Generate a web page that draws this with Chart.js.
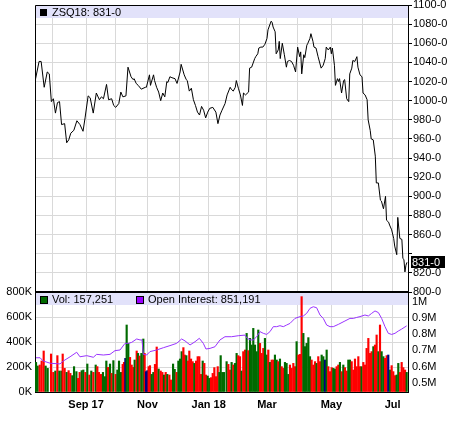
<!DOCTYPE html>
<html>
<head>
<meta charset="utf-8">
<script src="https://cdn.jsdelivr.net/npm/chart.js@4/dist/chart.umd.min.js"></script>
<style>
  html, body { margin: 0; padding: 0; background: #fff; }
  #wrap { position: relative; width: 450px; height: 433px; }
  canvas { position: absolute; left: 0; }
  #price { top: 0; }
  #vol { top: 280px; }
</style>
</head>
<body>
<div id="wrap">
  <canvas id="price" width="450" height="300"></canvas>
  <canvas id="vol" width="450" height="153"></canvas>
</div>
<script>
// x axis is in calendar days counted from 1 Aug 2017
const xMin = -17;
const xMax = 348;
const monthTicks = [0, 33, 62, 93, 124, 153, 183, 210, 240, 273, 303, 333];
const monthLabels = ['', 'Sep 17', '', 'Nov', '', 'Jan 18', '', 'Mar', '', 'May', '', 'Jul'];

const symbol = 'ZSQ18';
const lastPrice = 831;
const lastVolume = 157251;
const lastOpenInterest = 851191;

const priceDays = [
  -17, -13, -11, -8, -5, -3, -1, 1, 3, 5,
  7, 9, 12, 14, 16, 18, 21, 24, 27, 30,
  32, 35, 37, 40, 43, 46, 48, 50, 53, 55,
  58, 60, 62, 65, 67, 69, 72, 74, 77, 79,
  80, 82, 84, 87, 91, 92, 95, 96, 99, 100,
  102, 104, 106, 108, 110, 112, 113, 115, 117, 120,
  122, 125, 126, 129, 131, 132, 134, 136, 138, 140,
  142, 144, 146, 148, 150, 152, 154, 157, 160, 162,
  164, 166, 169, 171, 174, 175, 177, 179, 180, 182,
  184, 186, 187, 189, 192, 193, 195, 198, 199, 201,
  202, 204, 206, 208, 210, 211, 214, 215, 216, 218,
  219, 221, 222, 223, 225, 227, 229, 230, 232, 234,
  236, 238, 240, 242, 243, 244, 246, 247, 249, 250,
  252, 253, 255, 256, 258, 260, 263, 265, 267, 268,
  270, 272, 273, 274, 276, 277, 279, 280, 281, 283,
  285, 286, 288, 290, 291, 293, 294, 296, 298, 299,
  301, 303, 304, 306, 308, 309, 311, 312, 314, 316,
  317, 319, 321, 322, 324, 326, 327, 329, 330, 332,
  334, 335, 337, 338, 340, 342, 343, 344, 345, 346, 347
];
const priceValues = [
  1020, 1041, 1041, 1014, 1030, 1028, 999, 1002, 987, 998,
  999, 975, 976, 956, 959, 966, 969, 979, 975, 968,
  982, 1005, 1003, 987, 1008, 1001, 1004, 1002, 1017, 1001,
  1002, 995, 993, 997, 1009, 1004, 1005, 1035, 1025, 1022,
  1023, 1018, 1016, 1012, 1014, 1014, 1027, 1016, 1027, 1021,
  1014, 1009, 1000, 1008, 1004, 1020, 1019, 1025, 1024, 1023,
  1018, 1030, 1038, 1027, 1022, 1021, 1010, 1013, 1001, 995,
  988, 985, 994, 990, 982, 988, 992, 993, 988, 976,
  985, 990, 997, 1006, 1014, 1012, 1010, 1014, 1021, 1013,
  1006, 995, 1008, 1006, 1009, 1034, 1035, 1044, 1046, 1049,
  1055, 1056, 1056, 1059, 1065, 1074, 1083, 1082, 1077, 1072,
  1049, 1053, 1062, 1044, 1060, 1048, 1035, 1041, 1042, 1041,
  1037, 1030, 1056, 1046, 1051, 1028, 1048, 1045, 1058, 1060,
  1065, 1070, 1062, 1056, 1055, 1046, 1034, 1037, 1044, 1056,
  1053, 1056, 1049, 1055, 1037, 1016, 1023, 1020, 1023, 1008,
  1021, 1022, 1002, 999, 1028, 1034, 1042, 1041, 1046, 1035,
  1027, 1025, 1008, 1006, 1001, 980, 969, 960, 959, 942,
  914, 914, 896, 895, 887, 900, 875, 873, 870, 865,
  856, 848, 839, 878, 856, 855, 835, 834, 821, 828, 831
];

// volume in thousands; g = up day, r = down day, n = unchanged
const volDays = [
  -16.0, -14.4, -12.4, -10.5, -8.5, -6.6, -4.6, -1.3, 0.9, 2.9,
  4.9, 6.8, 8.8, 10.1, 12.0, 14.0, 15.9, 17.6, 19.5, 21.2,
  23.5, 25.1, 26.7, 28.7, 30.3, 32.3, 34.2, 36.2, 38.1, 40.1,
  42.4, 44.0, 45.6, 47.6, 49.5, 51.5, 52.8, 54.4, 56.4, 58.0,
  59.7, 61.9, 63.6, 65.2, 67.2, 68.8, 70.1, 71.4, 72.7, 74.3,
  76.0, 77.6, 79.2, 80.5, 82.5, 83.8, 85.4, 87.1, 89.0, 90.3,
  91.6, 92.9, 94.2, 95.5, 97.2, 98.8, 100.4, 102.1, 104.0, 106.0,
  107.6, 109.2, 110.9, 112.5, 114.5, 116.1, 118.1, 119.7, 121.6, 123.3,
  124.9, 126.5, 128.2, 129.5, 131.1, 132.7, 134.0, 135.7, 137.3, 138.9,
  140.6, 142.2, 143.8, 145.5, 147.1, 148.7, 150.3, 152.0, 153.6, 155.2,
  156.9, 158.5, 160.1, 161.8, 163.4, 164.7, 166.3, 168.0,
  170.5, 172.2, 173.8, 175.4, 177.1, 178.7, 180.3, 181.9, 183.6, 185.2,
  186.8, 188.5, 190.1, 191.7, 193.4, 195.0, 196.6, 198.3, 199.9, 201.5,
  203.2, 204.8, 206.4, 208.0, 209.7, 211.3, 212.9, 214.6, 216.2, 217.8,
  219.5, 221.1, 222.7, 224.4, 226.0, 227.6, 229.2, 230.9, 232.5, 234.1,
  235.8, 237.4, 239.0, 240.7, 242.3, 243.9, 245.6, 247.2, 248.8, 250.5,
  252.1, 253.7, 255.3, 257.0, 258.6, 260.2, 261.9, 263.5, 265.1, 266.8,
  268.4, 270.0, 271.7, 273.3, 274.9, 276.5, 278.2, 279.8, 281.4, 283.1,
  284.7, 286.3, 288.0, 289.6, 291.2, 292.9, 294.5, 296.1, 297.8, 299.4,
  301.0, 302.6, 304.3, 305.9, 307.5, 309.2, 310.8, 312.4, 314.1, 315.7,
  317.3, 319.0, 320.6, 322.2, 323.9, 325.5, 327.1, 328.7, 330.4, 332.0,
  333.6, 335.3, 336.9, 338.5, 340.2, 341.8, 343.4, 345.1, 346.7
];
const volValues = [
  237, 208, 216, 248, 328, 208, 189, 304, 157, 168,
  291, 168, 168, 304, 189, 157, 171, 149, 131, 203,
  163, 109, 157, 171, 176, 157, 224, 136, 168, 157,
  216, 203, 157, 141, 157, 123, 248, 197, 224, 149,
  251, 141, 176, 248, 157, 221, 237, 269, 536, 389,
  277, 216, 197, 256, 328, 309, 288, 309, 424, 309,
  163, 171, 203, 211, 141, 157, 221, 360, 184, 168,
  157, 136, 157, 141, 136, 96, 224, 181, 157, 248,
  264, 323, 355, 296, 291, 248, 328, 264, 243, 229,
  248, 283, 283, 141, 248, 229, 136, 128, 109, 115,
  149, 195, 123, 203, 157, 291, 157, 157,
  243, 221, 176, 237, 216, 229, 309, 291, 283, 168,
  323, 336, 469, 331, 429, 376, 509, 376, 323, 496,
  389, 309, 349, 429, 296, 336, 237, 256, 256, 296,
  256, 243, 264, 203, 189, 237, 229, 141, 216, 189,
  229, 203, 403, 296, 301, 763, 469, 363, 389, 435,
  283, 256, 216, 243, 229, 283, 243, 296, 283, 256,
  336, 203, 163, 195, 189, 184, 203, 216, 237, 163,
  216, 195, 168, 256, 256, 243, 176, 264, 203, 283,
  203, 203, 237, 216, 349, 429, 309, 323, 363, 376,
  456, 323, 536, 323, 283, 269, 291, 296, 176, 211,
  163, 131, 136, 229, 157, 237, 195, 176, 157
];
const volDir = (
  'ggrrrggrrg' + 'rggrrgrrgg' + 'grrggrgrgr' + 'grrrgggrgr' + 'grgggrrngg' +
  'rrrgrgrggr' + 'nnrrggrrgr' + 'rgrgrrggrg' + 'ggrrgrrrrg' + 'rrrrgrrggr' +
  'rrrrgggg' +
  'grrgrggrrg' + 'rrgrgggggg' + 'rrrggrgrrg' + 'grgrrgggrr' + 'rrgrrrgggg' +
  'grrrgrrggn' + 'grrrggrrgr' + 'grrggrrrrr' + 'rgrrrrrrgr' + 'rgrggrrngr' +
  'rrggrrrrg'
).split('');

// open interest in thousands
const oiDays = [
  -16, -12, -9, -2, 7.5, 10.7, 17.3, 23.8, 27, 33.6,
  40.1, 43.3, 49.9, 56.4, 61.3, 66.2, 71.1, 74.3, 77.6, 82.5,
  85.8, 87.7, 89, 92.3, 95.5, 102.1, 108.6, 115.1, 121.6, 126.5,
  129.8, 134.7, 139.6, 143.8, 147.7, 150.3, 154.3, 159.1, 164, 168.9,
  175.4, 181.9, 188.5, 190.1, 193.4, 196.6, 199.9, 203.2, 206.4, 209.7,
  212.9, 216.2, 219.5, 222.7, 226, 229.2, 232.5, 237.4, 242.3, 245.6,
  248.8, 252.1, 255.3, 258.6, 261.9, 265.1, 268.4, 271.7, 274.9, 279.8,
  286.3, 291.2, 294.5, 297.8, 301, 305.9, 309.2, 312.4, 315.7, 319,
  322.2, 325.5, 328.7, 332, 335.3, 338.5, 341.8, 346.7
];
const oiValues = [
  654, 654, 634, 620, 616, 634, 660, 688, 660, 667,
  657, 675, 671, 675, 698, 702, 743, 743, 749, 770,
  764, 764, 675, 671, 692, 702, 716, 729, 743, 770,
  758, 733, 753, 774, 743, 708, 712, 722, 764, 784,
  784, 790, 794, 778, 764, 764, 784, 815, 805, 798,
  815, 846, 846, 852, 846, 856, 866, 897, 908, 912,
  928, 959, 969, 963, 918, 897, 856, 846, 846, 860,
  881, 897, 897, 903, 908, 918, 912, 928, 943, 933,
  897, 846, 805, 798, 805, 819, 831, 851
];

const priceTicks = [800, 820, 840, 860, 880, 900, 920, 940, 960, 980, 1000, 1020, 1040, 1060, 1080, 1100];
const volTicks = [0, 200, 400, 600, 800];
const oiTicks = [500, 600, 700, 800, 900, 1000];

const gridColor = '#d9d9d9';
const bandColor = '#e2e2fa';
const dirColors = { g: '#006a00', r: '#ff0000', n: '#000080' };
const oiColor = '#9933ff';
const fontFamily = '"Liberation Sans", Arial, sans-serif';

Chart.defaults.font.family = fontFamily;
Chart.defaults.font.size = 11;
Chart.defaults.color = '#000';

const toPoints = (xs, ys) => xs.map((x, i) => ({ x: x, y: ys[i] }));
const setTicks = (list) => (scale) => { scale.ticks = list.map(v => ({ value: v })); };
const fixSize = (prop, size) => (scale) => {
    scale[prop] = size;
    scale.paddingTop = 0;
    scale.paddingBottom = 0;
    scale.paddingLeft = 0;
    scale.paddingRight = 0;
};

const pricePanel = {
    id: 'pricePanel',
    beforeDatasetsDraw(chart) {
        const { ctx, chartArea: a } = chart;
        ctx.save();
        ctx.fillStyle = bandColor;
        ctx.fillRect(a.left + 1, a.top + 1, a.right - a.left - 1, 12);
        ctx.restore();
    },
    afterDraw(chart) {
        const { ctx, chartArea: a, scales } = chart;
        ctx.save();
        ctx.strokeStyle = '#000';
        ctx.lineWidth = 1;
        ctx.beginPath();
        ctx.moveTo(a.left + 0.5, a.bottom);
        ctx.lineTo(a.left + 0.5, a.top + 0.5);
        ctx.lineTo(a.right + 1, a.top + 0.5);
        ctx.stroke();

        ctx.fillStyle = '#000';
        ctx.fillRect(a.left + 5, a.top + 4, 7, 7);
        ctx.font = '11px ' + fontFamily;
        ctx.textBaseline = 'middle';
        ctx.fillText(symbol + ': ' + lastPrice + '-0', a.left + 17, a.top + 7.5);

        // last price marker on the axis
        const y = Math.round(scales.y.getPixelForValue(lastPrice));
        ctx.fillRect(a.right + 3, y - 6, 34, 12);
        ctx.fillStyle = '#fff';
        ctx.fillText(lastPrice + '-0', a.right + 4, y + 0.5);
        ctx.restore();
    }
};

const volPanel = {
    id: 'volPanel',
    beforeDatasetsDraw(chart) {
        const { ctx, chartArea: a } = chart;
        ctx.save();
        ctx.fillStyle = bandColor;
        ctx.fillRect(a.left + 1, a.top + 1, a.right - a.left - 1, 12);
        ctx.restore();
    },
    afterDraw(chart) {
        const { ctx, chartArea: a } = chart;
        ctx.save();
        ctx.fillStyle = '#000';
        ctx.fillRect(a.left, a.top - 1, a.right - a.left + 1, 2);

        ctx.font = '11px ' + fontFamily;
        ctx.textBaseline = 'middle';
        const ty = a.top + 7.5;
        ctx.fillStyle = '#000';
        ctx.fillRect(a.left + 5, a.top + 4, 8, 8);
        ctx.fillStyle = dirColors.g;
        ctx.fillRect(a.left + 6, a.top + 5, 6, 6);
        ctx.fillStyle = '#000';
        ctx.fillText('Vol: ' + lastVolume.toLocaleString('en-US'), a.left + 17, ty);

        ctx.fillRect(a.left + 101, a.top + 4, 8, 8);
        ctx.fillStyle = '#9900ff';
        ctx.fillRect(a.left + 102, a.top + 5, 6, 6);
        ctx.fillStyle = '#000';
        ctx.fillText('Open Interest: ' + lastOpenInterest.toLocaleString('en-US'), a.left + 113, ty);
        ctx.restore();
    }
};

new Chart(document.getElementById('price'), {
    type: 'line',
    data: {
        datasets: [{
            data: toPoints(priceDays, priceValues),
            borderColor: '#000',
            borderWidth: 1,
            pointRadius: 0,
            tension: 0
        }]
    },
    options: {
        responsive: false,
        animation: false,
        devicePixelRatio: 1,
        layout: { padding: { left: 35, top: 5, right: 0, bottom: 8 } },
        plugins: { legend: { display: false }, tooltip: { enabled: false } },
        scales: {
            x: {
                type: 'linear',
                min: xMin,
                max: xMax,
                afterBuildTicks: setTicks(monthTicks),
                ticks: { display: false },
                grid: { color: gridColor, drawTicks: false },
                border: { display: false },
                afterFit: fixSize('height', 0)
            },
            y: {
                position: 'right',
                min: 800,
                max: 1100,
                afterBuildTicks: setTicks(priceTicks),
                ticks: {
                    padding: 1,
                    callback: (v) => Math.abs(v - lastPrice) < 10 ? '' : v + '-0'
                },
                grid: { color: gridColor, tickColor: '#000', tickLength: 4 },
                border: { color: '#000' },
                afterFit: fixSize('width', 42)
            }
        }
    },
    plugins: [pricePanel]
});

new Chart(document.getElementById('vol'), {
    type: 'bar',
    data: {
        datasets: [
            {
                type: 'line',
                yAxisID: 'oi',
                data: toPoints(oiDays, oiValues),
                borderColor: oiColor,
                borderWidth: 1,
                pointRadius: 0,
                tension: 0,
                order: 0
            },
            {
                type: 'bar',
                yAxisID: 'vol',
                data: toPoints(volDays, volValues),
                backgroundColor: volDir.map(d => dirColors[d]),
                barThickness: 1.5,
                order: 1
            }
        ]
    },
    options: {
        responsive: false,
        animation: false,
        devicePixelRatio: 1,
        layout: { padding: { left: 0, top: 12, right: 0, bottom: 0 } },
        plugins: { legend: { display: false }, tooltip: { enabled: false } },
        scales: {
            x: {
                type: 'linear',
                min: xMin,
                max: xMax,
                offset: false,
                afterBuildTicks: setTicks(monthTicks),
                ticks: {
                    autoSkip: false,
                    maxRotation: 0,
                    padding: 6,
                    font: { weight: 'bold', size: 11 },
                    callback: (v, i) => monthLabels[i]
                },
                grid: { color: gridColor, drawTicks: false, offset: false },
                border: { color: '#000' },
                afterFit: fixSize('height', 41)
            },
            vol: {
                position: 'left',
                min: 0,
                max: 800,
                afterBuildTicks: setTicks(volTicks),
                ticks: { padding: 3, callback: (v) => v + 'K' },
                grid: { color: gridColor, drawTicks: false },
                border: { color: '#000' },
                afterFit: fixSize('width', 35)
            },
            oi: {
                position: 'right',
                min: 442.6,
                max: 1060,
                afterBuildTicks: setTicks(oiTicks),
                ticks: { padding: 4, callback: (v) => v === 1000 ? '1M' : (v / 1000) + 'M' },
                grid: { drawOnChartArea: false, drawTicks: false },
                border: { color: '#000' },
                afterFit: fixSize('width', 42)
            }
        }
    },
    plugins: [volPanel]
});
</script>
</body>
</html>
